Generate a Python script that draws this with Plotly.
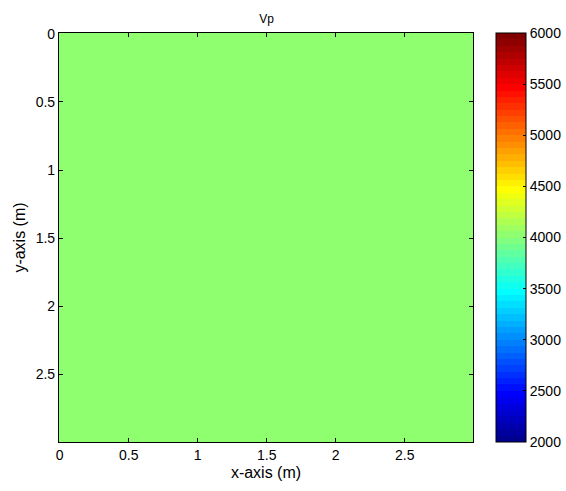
import numpy as np
import plotly.graph_objects as go

# Data
title_text = "Vp"
vp_value = 4030.0           # constant velocity field (m/s)
n_x, n_y = 300, 300         # grid cells
dx = 0.01                   # grid spacing (m)
c_min, c_max = 2000, 6000
x_ticks = [0, 0.5, 1, 1.5, 2, 2.5]
x_tick_text = ["0", "0.5", "1", "1.5", "2", "2.5"]
y_ticks = [0, 0.5, 1, 1.5, 2, 2.5]
y_tick_text = ["0", "0.5", "1", "1.5", "2", "2.5"]
cb_ticks = [2000, 2500, 3000, 3500, 4000, 4500, 5000, 5500, 6000]

z = np.full((n_y, n_x), vp_value)

# MATLAB jet(64), stepped
def jet64():
    n = 16
    u = [j / n for j in range(1, n + 1)] + [1.0] * 15 + [j / n for j in range(n, 0, -1)]
    m = 64
    g_idx = [8 + i for i in range(1, len(u) + 1)]
    r = [0.0] * m; g = [0.0] * m; b = [0.0] * m
    for k, gi in enumerate(g_idx):
        ri = gi + n; bi = gi - n
        if 1 <= gi <= m: g[gi - 1] = u[k]
        if 1 <= ri <= m: r[ri - 1] = u[k]
        if 1 <= bi <= m: b[bi - 1] = u[k]
    return [(r[i], g[i], b[i]) for i in range(m)]

cols = jet64()
cs = []
for i, (r, g, b) in enumerate(cols):
    c = f"rgb({round(r*255)},{round(g*255)},{round(b*255)})"
    cs.append([i / 64, c])
    cs.append([(i + 1) / 64, c])

fig = go.Figure(go.Heatmap(
    z=z, x0=0, dx=dx, y0=0, dy=dx,
    zmin=c_min, zmax=c_max, colorscale=cs,
    colorbar=dict(
        x=1.0556, xanchor="left", xref="paper",
        y=0, yanchor="bottom", len=1, lenmode="fraction",
        thickness=30, thicknessmode="pixels",
        outlinecolor="black", outlinewidth=1,
        tickvals=cb_ticks, ticks="inside", ticklen=3, tickcolor="black",
        tickfont=dict(family="Liberation Sans, Arial", size=14, color="black"),
        xpad=0, ypad=0,
    ),
    hoverinfo="skip",
))

axis_common = dict(
    showline=True, linecolor="black", linewidth=1.2, mirror="ticks",
    ticks="inside", ticklen=4, tickcolor="black", showgrid=False, zeroline=False,
    tickfont=dict(family="Liberation Sans, Arial", size=14, color="black"),
)

fig.update_layout(
    width=566, height=491,
    margin=dict(l=59, r=93, t=33, b=49, autoexpand=False),
    paper_bgcolor="white", plot_bgcolor="white",
    title=dict(text=title_text, x=0.471, xanchor="center", y=0.962, yanchor="middle",
               font=dict(family="Liberation Sans, Arial", size=12, color="black")),
    xaxis=dict(range=[-0.005, 2.995], tickvals=x_ticks, ticktext=x_tick_text,
               title=dict(text="x-axis (m)", standoff=4,
                          font=dict(family="Liberation Sans, Arial", size=16, color="black")),
               **axis_common),
    yaxis=dict(range=[2.995, -0.005], tickvals=y_ticks, ticktext=y_tick_text,
               title=dict(text="y-axis (m)", standoff=6,
                          font=dict(family="Liberation Sans, Arial", size=16, color="black")),
               **axis_common),
)

fig.write_html("out.html")
